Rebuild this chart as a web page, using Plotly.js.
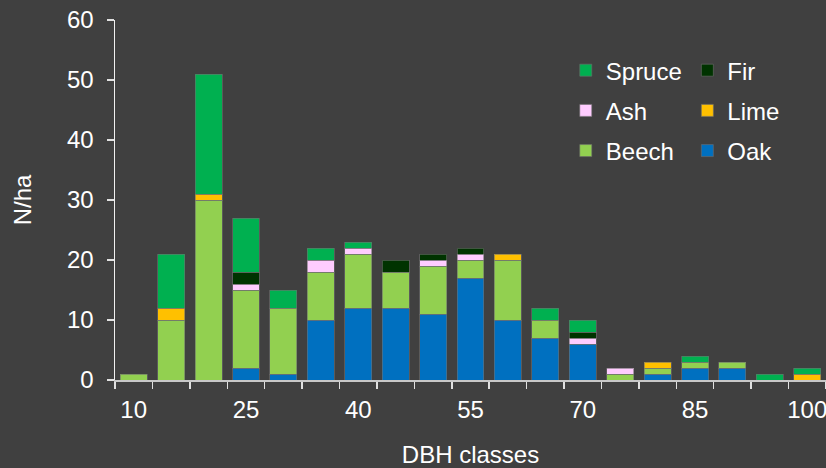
<!DOCTYPE html>
<html>
<head>
<meta charset="utf-8">
<script src="https://cdn.plot.ly/plotly-3.0.1.min.js"></script>
<style>html,body{margin:0;padding:0;background:#404040;}#chart{width:826px;height:468px;}</style>
</head>
<body>
<div id="chart"></div>
<script>
const categories = [10,15,20,25,30,35,40,45,50,55,60,65,70,75,80,85,90,95,100];
const tickLabels = ["10","25","40","55","70","85","100"];
const tickValues = [10,25,40,55,70,85,100];
const oak    = [0,0,0,2,1,10,12,12,11,17,10,7,6,0,1,2,2,0,0];
const beech  = [1,10,30,13,11,8,9,6,8,3,10,3,0,1,1,1,1,0,0];
const lime   = [0,2,1,0,0,0,0,0,0,0,1,0,0,0,1,0,0,0,1];
const ash    = [0,0,0,1,0,2,1,0,1,1,0,0,1,1,0,0,0,0,0];
const fir    = [0,0,0,2,0,0,0,2,1,1,0,0,1,0,0,0,0,0,0];
const spruce = [0,9,20,9,3,2,1,0,0,0,0,2,2,0,0,1,0,1,1];

const FONT = 'Liberation Sans, Arial, sans-serif';
const FS = 24;
function tr(name, vals, color, leg, rank){
  return {
    type:'bar', name:name, x:categories, y:vals.map(v=>v===0?null:v),
    marker:{color:color, line:{color:'rgba(110,110,110,0.6)', width:1}},
    legend:leg, legendgroup:name, legendrank:rank, hoverinfo:'x+y+name'
  };
}
const data = [
  tr('Oak', oak, '#0070C0', 'legend2', 3),
  tr('Beech', beech, '#92D050', 'legend', 3),
  tr('Lime', lime, '#FFC000', 'legend2', 2),
  tr('Ash', ash, '#FFCCFF', 'legend', 2),
  tr('Fir', fir, '#003300', 'legend2', 1),
  tr('Spruce', spruce, '#00B050', 'legend', 1)
];
const legBase = {
  bgcolor:'rgba(0,0,0,0)', font:{family:FONT, size:FS, color:'#ffffff'},
  traceorder:'grouped', tracegroupgap:6, yanchor:'top', xanchor:'left',
  y:0.922, itemclick:false
};
const layout = {
  width:826, height:468,
  paper_bgcolor:'#404040', plot_bgcolor:'#404040',
  margin:{l:115, r:0, t:20, b:88},
  barmode:'stack', bargap:0.28,
  font:{family:FONT, size:FS, color:'#ffffff'},
  showlegend:true,
  legend:Object.assign({}, legBase, {x:0.634}),
  legend2:Object.assign({}, legBase, {x:0.805}),
  xaxis:{
    range:[7.5,102.5], tickvals:tickValues, ticktext:tickLabels,
    ticks:'outside', ticklen:7, tickcolor:'rgba(0,0,0,0)', ticklabeloverflow:'allow',
    showline:true, linecolor:'#c8c8c8', linewidth:2, showgrid:false, zeroline:false,
    minor:{ticks:'outside', tick0:7.5, dtick:5, ticklen:7, tickcolor:'#e0e0e0', tickwidth:1.5, showgrid:false},
    tickfont:{family:FONT, size:FS, color:'#ffffff'},
    title:{text:'DBH classes', font:{family:FONT, size:FS, color:'#ffffff'}, standoff:27}
  },
  yaxis:{
    range:[0,60], dtick:10, ticks:'outside', ticklen:7, tickcolor:'#e0e0e0', tickwidth:1.5,
    ticklabelstandoff:8,
    showline:true, linecolor:'#f0f0f0', linewidth:1.5, showgrid:false, zeroline:false,
    tickfont:{family:FONT, size:FS, color:'#ffffff'},
    title:{text:'N/ha', font:{family:FONT, size:FS, color:'#ffffff'}, standoff:28}
  }
};
Plotly.newPlot('chart', data, layout, {displayModeBar:false, staticPlot:true});
</script>
</body>
</html>
